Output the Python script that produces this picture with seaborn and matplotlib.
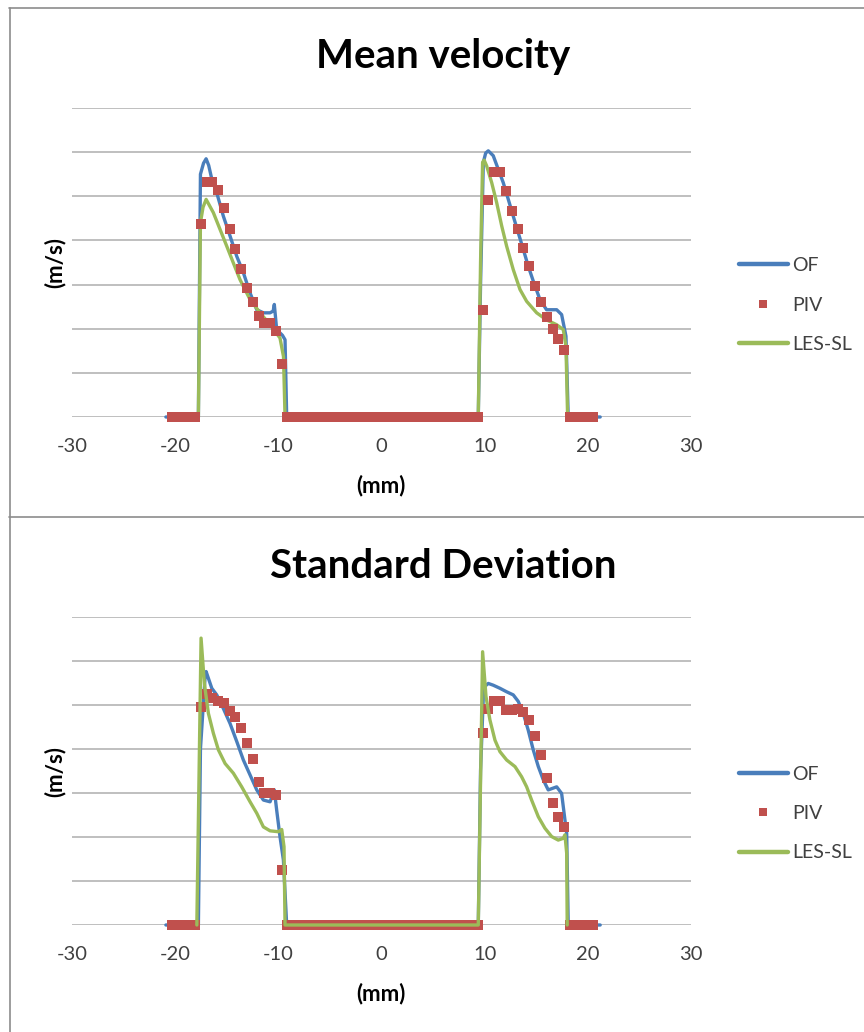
import numpy as np
import pandas as pd
import matplotlib
matplotlib.use("Agg")
import matplotlib.pyplot as plt
from matplotlib.lines import Line2D
import seaborn as sns

# ---------------- data ----------------
# OF (mean velocity)
of_mean_x = [-20.9, -17.75, -17.55, -17.25, -17.0, -16.75, -16.45, -15.97, -15.33, -14.68, -14.03,
             -13.39, -12.74, -12.09, -11.45, -10.8, -10.5, -10.39, -10.16, -9.6, -9.35, -9.19,
             9.38, 9.6, 9.87, 10.1, 10.35, 10.83, 11.32, 11.80, 12.29, 12.77, 13.26, 13.74, 14.22,
             14.71, 15.36, 16.0, 16.98, 17.46, 17.88, 18.1, 21.2]
of_mean_y = [0.0, 0.0, 5.5, 5.75, 5.85, 5.7, 5.39, 5.08, 4.55, 4.10, 3.64,
             3.27, 2.81, 2.43, 2.36, 2.36, 2.40, 2.55, 1.98, 1.85, 1.75, 0.0,
             0.0, 3.0, 5.77, 5.98, 6.03, 5.92, 5.61, 5.31, 4.93, 4.55, 4.17, 3.80, 3.42,
             3.08, 2.66, 2.43, 2.43, 2.32, 1.83, 0.0, 0.0]

# LES-SL (mean velocity); NaN separates the two jets
les_mean_x = [-17.75, -17.55, -17.3, -17.0, -16.3, -15.65, -15.0, -14.36, -13.71, -12.74, -11.77,
              -10.8, -9.84, -9.5, -9.35, 0.0,
              9.38, 9.6, 9.8, 9.95, 10.19, 10.68, 11.16, 11.65, 12.13, 12.77, 13.42, 14.07,
              15.04, 16.0, 16.98, 17.62, 17.88, 18.04]
les_mean_y = [0.0, 4.4, 4.75, 4.93, 4.63, 4.25, 3.87, 3.49, 3.11, 2.66, 2.36,
              2.09, 1.79, 1.37, 0.0, np.nan,
              0.0, 3.5, 5.77, 5.82, 5.69, 5.31, 4.86, 4.33, 3.87, 3.34, 2.89, 2.62,
              2.36, 2.20, 2.09, 1.98, 1.60, 0.0]

# OF (standard deviation)
of_std_x = [-20.9, -17.75, -17.55, -17.1, -17.0, -16.45, -15.97, -15.33, -14.68, -14.03, -13.39,
            -12.74, -12.09, -11.45, -10.8, -10.39, -10.16, -9.84, -9.51, -9.19,
            9.38, 9.6, 9.9, 10.35, 10.83, 11.48, 12.13, 12.77, 13.26, 13.74, 14.22, 14.71,
            15.2, 15.68, 16.16, 16.98, 17.46, 17.78, 17.95, 18.1, 21.2]
of_std_y = [0.0, 0.0, 4.0, 5.64, 5.76, 5.38, 5.23, 4.92, 4.58, 4.17, 3.75,
            3.41, 3.07, 2.84, 2.80, 3.07, 2.61, 2.01, 1.48, 0.0,
            0.0, 3.5, 5.4, 5.49, 5.45, 5.38, 5.30, 5.23, 5.08, 4.81, 4.43, 3.98,
            3.60, 3.30, 3.07, 3.14, 2.99, 2.39, 2.08, 0.0, 0.0]

# LES-SL (standard deviation)
les_std_x = [-17.9, -17.49, -17.17, -16.78, -16.3, -15.81, -15.16, -14.36, -13.55, -12.74, -12.09,
             -11.45, -10.8, -10.0, -9.67, -9.45, -9.35,
             9.38, 9.80, 10.13, 10.51, 11.0, 11.48, 12.13, 12.94, 13.58, 14.07, 14.55, 15.2,
             15.84, 16.49, 17.13, 17.62, 17.78, 17.95, 18.0]
les_std_y = [0.0, 6.52, 5.49, 4.81, 4.36, 3.98, 3.67, 3.45, 3.14, 2.80, 2.54,
             2.23, 2.14, 2.12, 2.17, 1.78, 0.0,
             0.0, 6.21, 5.19, 4.66, 4.20, 3.94, 3.75, 3.60, 3.37, 3.14, 2.84, 2.46,
             2.20, 2.01, 1.93, 1.97, 2.05, 1.63, 0.0]

# PIV measurement positions (mm)
piv_x = [-20.33, -19.77, -19.21, -18.65, -18.09,
         -17.52, -16.96, -16.40, -15.84, -15.28, -14.72, -14.16, -13.60, -13.04, -12.48,
         -11.92, -11.36, -10.80, -10.24, -9.68,
         -9.12, -8.56, -8.00, -7.44, -6.88, -6.32, -5.76, -5.20, -4.64, -4.08, -3.52, -2.96,
         -2.40, -1.84, -1.28, -0.72, -0.16, 0.40, 0.96, 1.52, 2.08, 2.64, 3.20, 3.76, 4.32,
         4.88, 5.44, 6.00, 6.56, 7.12, 7.68, 8.24, 8.80, 9.36,
         9.80, 10.37, 10.93, 11.50, 12.06, 12.63, 13.19, 13.76, 14.32, 14.89, 15.45, 16.02,
         16.58, 17.15, 17.71,
         18.27, 18.84, 19.40, 19.97, 20.53]
piv_mean = [0, 0, 0, 0, 0,
            4.38, 5.33, 5.33, 5.14, 4.73, 4.25, 3.80, 3.36, 2.93, 2.60,
            2.28, 2.13, 2.13, 1.94, 1.20,
            0, 0, 0, 0, 0, 0, 0, 0, 0, 0, 0, 0,
            0, 0, 0, 0, 0, 0, 0, 0, 0, 0, 0, 0, 0,
            0, 0, 0, 0, 0, 0, 0, 0, 0,
            2.43, 4.91, 5.55, 5.55, 5.12, 4.67, 4.25, 3.83, 3.42, 2.96, 2.60, 2.26,
            1.99, 1.77, 1.52,
            0, 0, 0, 0, 0]
piv_std = [0, 0, 0, 0, 0,
           4.95, 5.25, 5.17, 5.08, 5.04, 4.87, 4.73, 4.47, 4.13, 3.77,
           3.25, 3.01, 3.01, 2.95, 1.25,
           0, 0, 0, 0, 0, 0, 0, 0, 0, 0, 0, 0,
           0, 0, 0, 0, 0, 0, 0, 0, 0, 0, 0, 0, 0,
           0, 0, 0, 0, 0, 0, 0, 0, 0,
           4.36, 4.92, 5.08, 5.08, 4.89, 4.89, 4.92, 4.83, 4.66, 4.30, 3.86, 3.33,
           2.78, 2.45, 2.23,
           0, 0, 0, 0, 0]

x_ticks = [-30, -20, -10, 0, 10, 20, 30]
series_names = ["OF", "PIV", "LES-SL"]
titles = ["Mean velocity", "Standard Deviation"]
y_label = "(m/s)"
x_label = "(mm)"

# ---------------- style ----------------
sns.set_theme(style="white")
FONT = ["Lato", "DejaVu Sans"]
plt.rcParams["font.family"] = FONT

C_OF = "#4A7EBB"
C_PIV = "#C0504D"
C_LES = "#9BBB59"
C_GRID = "#BFBFBF"
C_TXT = "#404040"

W, H = 864, 1032
fig = plt.figure(figsize=(W / 100, H / 100), dpi=100)

def fx(px):
    return px / W

def fy(py):
    return 1 - py / H

# frame lines (chart borders)
for (x0, y0, x1, y1) in [(9.5, 8, 9.5, H), (9, 8, W, 8), (9, 516.5, W, 516.5)]:
    fig.add_artist(Line2D([fx(x0), fx(x1)], [fy(y0), fy(y1)], color="#8C8C8C", lw=1.2))

panels = [
    dict(top=108, bottom=417, title_base=68, of=(of_mean_x, of_mean_y), les=(les_mean_x, les_mean_y),
         piv=piv_mean, leg_y=305, les_on_top=False),
    dict(top=617, bottom=925, title_base=578, of=(of_std_x, of_std_y), les=(les_std_x, les_std_y),
         piv=piv_std, leg_y=813.5, les_on_top=True),
]

for i, p in enumerate(panels):
    ax = fig.add_axes([fx(72), fy(p["bottom"]), fx(691) - fx(72), (p["bottom"] - p["top"]) / H])
    ax.set_xlim(-30, 30)
    ax.set_ylim(0, 7)
    ax.set_yticks(range(0, 8))
    ax.yaxis.grid(True, color=C_GRID, lw=1.4)
    ax.xaxis.grid(False)
    ax.set_axisbelow(True)
    for s in ax.spines.values():
        s.set_visible(False)
    ax.set_xticks(x_ticks)
    ax.set_xticklabels([str(t) for t in x_ticks])
    ax.tick_params(axis="x", length=0, pad=15, labelsize=14.5, labelcolor=C_TXT)
    ax.tick_params(axis="y", length=0, labelleft=False)
    ax.set_facecolor("none")

    ofx, ofy = p["of"]
    lx, ly = p["les"]
    df_of = pd.DataFrame({"x": ofx, "y": ofy})
    df_les = pd.DataFrame({"x": lx, "y": ly})
    df_piv = pd.DataFrame({"x": piv_x, "y": p["piv"]})

    z_les = 4 if p["les_on_top"] else 2
    sns.lineplot(data=df_of, x="x", y="y", ax=ax, color=C_OF, lw=2.4, sort=False,
                 estimator=None, label=series_names[0], zorder=2)
    sns.scatterplot(data=df_piv, x="x", y="y", ax=ax, color=C_PIV, marker="s", s=42,
                    linewidth=0, label=series_names[1], zorder=3)
    sns.lineplot(data=df_les, x="x", y="y", ax=ax, color=C_LES, lw=2.4, sort=False,
                 estimator=None, label=series_names[2], zorder=z_les)
    for art in ax.lines + ax.collections:
        art.set_clip_on(False)
    ax.set_xlabel("")
    ax.set_ylabel("")
    if ax.get_legend() is not None:
        ax.get_legend().remove()

    handles = [Line2D([], [], color=C_OF, lw=3.2),
               Line2D([], [], color=C_PIV, marker="s", ls="none", markersize=5.5, mew=0),
               Line2D([], [], color=C_LES, lw=3.2)]
    fig.legend(handles, series_names, loc="center left",
               bbox_to_anchor=(fx(739), fy(p["leg_y"])), frameon=False,
               fontsize=14, handlelength=2.5, handletextpad=0.25, labelspacing=1.15,
               borderpad=0, borderaxespad=0, labelcolor=C_TXT)

    fig.text(fx(443), fy(p["title_base"]), titles[i], ha="center", va="baseline",
             fontsize=29, fontweight="bold", color="black")
    fig.text(fx(55), fy((p["top"] + p["bottom"]) / 2 + 0.5), y_label, rotation=90, ha="center",
             va="center", fontsize=16, fontweight="bold", color="black")
    fig.text(fx(381), fy(p["bottom"] + 69), x_label, ha="center", va="center",
             fontsize=16, fontweight="bold", color="black")

fig.savefig("out.png", dpi=100)
